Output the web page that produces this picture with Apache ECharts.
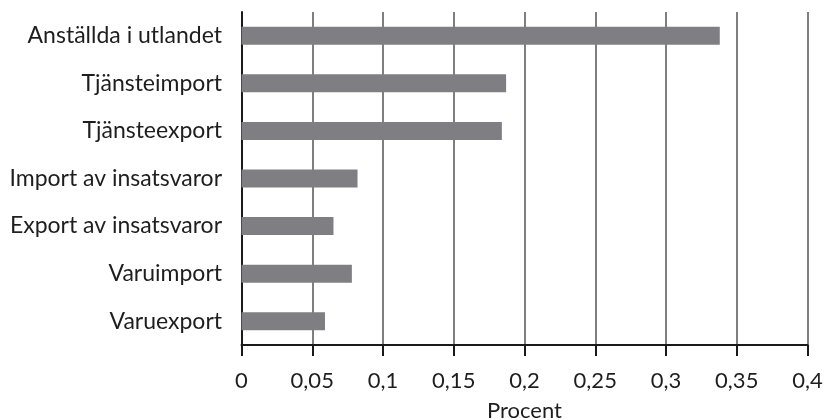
<!DOCTYPE html>
<html>
<head>
<meta charset="utf-8">
<script src="https://cdn.jsdelivr.net/npm/echarts@6/dist/echarts.min.js"></script>
<style>
  html, body { margin: 0; padding: 0; background: #fff; }
  #chart { width: 825px; height: 420px; }
</style>
</head>
<body>
<div id="chart"></div>
<script>
// Categories, top to bottom
const categories = [
  'Anställda i utlandet',
  'Tjänsteimport',
  'Tjänsteexport',
  'Import av insatsvaror',
  'Export av insatsvaror',
  'Varuimport',
  'Varuexport'
];
// Share in percent (as decimal values)
const values = [0.338, 0.187, 0.184, 0.082, 0.065, 0.078, 0.059];
const axisName = 'Procent';

const FONT = 'Lato, sans-serif';
const TEXT = '#1e1e1e';

const chart = echarts.init(document.getElementById('chart'), null, { renderer: 'canvas' });
chart.setOption({
  animation: false,
  backgroundColor: '#ffffff',
  grid: {
    left: 241.5, right: 17.5, top: 12, bottom: 75,
    containLabel: false,
    outerBoundsMode: 'none'
  },
  xAxis: {
    type: 'value',
    min: 0,
    max: 0.4,
    interval: 0.05,
    name: axisName,
    nameLocation: 'middle',
    nameGap: 55,
    nameTextStyle: { fontFamily: FONT, fontSize: 22, color: TEXT },
    axisLine: { show: true, lineStyle: { color: '#1a1a1a', width: 2 } },
    axisTick: { show: true, inside: false, length: 11, lineStyle: { color: '#1a1a1a', width: 2 } },
    axisLabel: {
      margin: 25,
      fontFamily: FONT,
      fontSize: 22,
      color: TEXT,
      formatter: v => String(Math.round(v * 100) / 100).replace('.', ',')
    },
    splitLine: { show: true, lineStyle: { color: '#555', width: 1.5 } }
  },
  yAxis: {
    type: 'category',
    data: categories,
    inverse: true,
    axisLine: { show: true, lineStyle: { color: '#1a1a1a', width: 2 } },
    axisTick: { show: false },
    axisLabel: { margin: 19.5, fontFamily: FONT, fontSize: 23, color: TEXT }
  },
  series: [{
    type: 'bar',
    data: values,
    barWidth: 18,
    itemStyle: { color: '#7f7f83' },
    silent: true
  }]
});
</script>
</body>
</html>
